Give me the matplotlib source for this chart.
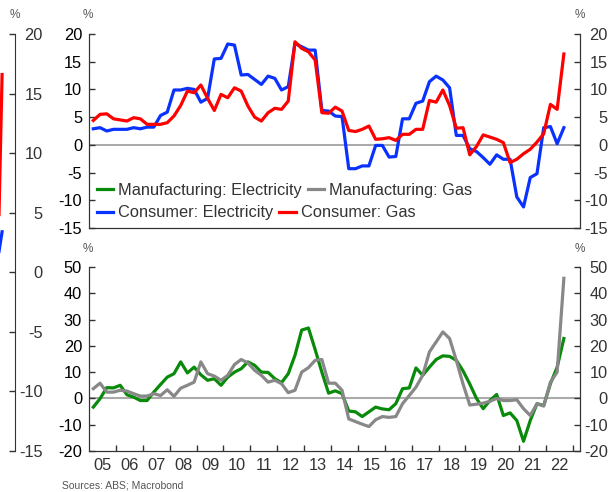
import matplotlib
matplotlib.use("Agg")
import matplotlib.pyplot as plt
import numpy as np
import pandas as pd

plt.rcParams['font.family'] = ['Liberation Sans', 'DejaVu Sans']
plt.rcParams['axes.unicode_minus'] = False  # 目盛りはハイフンのマイナス

# 四半期データ 2005Q1 - 2022Q3 (前年比 %)
quarters = pd.period_range("2005Q1", "2022Q3", freq="Q")

cons_elec = [2.9, 3.1, 2.5, 2.8, 2.8, 2.8, 3.1, 2.9, 3.2, 3.2,
             5.3, 5.9, 9.9, 9.9, 10.2, 10.0, 7.7, 8.4, 15.5, 15.6,
             18.2, 18.0, 12.6, 12.7, 11.8, 10.9, 12.4, 12.0, 9.9, 10.5,
             18.3, 17.7, 17.1, 17.1, 6.2, 6.1, 5.2, 5.1, -4.3, -4.3,
             -3.8, -3.8, -0.1, -0.1, -2.2, -2.1, 4.7, 4.7, 7.5, 7.9,
             11.4, 12.4, 11.7, 10.3, 1.7, 1.7, -0.7, -1.2, -2.3, -3.5,
             -1.8, -2.6, -2.6, -9.4, -11.2, -5.9, -5.2, 3.1, 3.3, 0.2,
             3.1]
cons_gas = [4.4, 5.5, 5.6, 4.7, 4.5, 4.3, 4.9, 4.7, 3.7, 3.7,
            3.7, 4.0, 5.2, 7.1, 9.7, 9.4, 10.8, 8.4, 6.2, 9.1,
            8.5, 10.3, 9.7, 7.0, 5.0, 4.3, 5.8, 6.6, 6.4, 7.9,
            18.6, 17.4, 16.8, 15.3, 5.8, 5.7, 6.8, 6.1, 2.6, 2.4,
            2.8, 3.4, 1.0, 1.1, 1.3, 0.8, 1.9, 1.9, 2.8, 2.8,
            8.0, 7.7, 9.9, 7.1, 3.0, 3.1, -1.8, -0.3, 1.8, 1.4,
            1.0, 0.4, -3.2, -2.6, -1.6, -0.8, 0.5, 2.0, 7.3, 6.4,
            16.4]
manu_elec = [-3.3, -0.1, 4.1, 4.0, 5.0, 1.4, 0.5, -0.8, -0.8, 2.4,
             5.3, 8.1, 9.4, 13.9, 9.7, 11.9, 9.0, 6.9, 7.5, 5.0,
             8.1, 10.0, 11.3, 13.9, 12.6, 10.0, 9.9, 7.5, 6.0, 9.4,
             16.4, 26.0, 26.8, 18.6, 10.0, 2.0, 2.9, 1.8, -4.8, -5.1,
             -6.9, -5.1, -3.3, -4.0, -4.3, -2.0, 3.7, 4.0, 11.6, 8.8,
             11.9, 14.8, 16.2, 16.0, 14.5, 10.5, 5.5, 0.0, -3.9, -0.8,
             1.5, -6.5, -5.5, -8.4, -16.3, -8.4, -2.0, -2.7, 5.6, 11.9,
             22.8]
manu_gas = [3.7, 5.8, 2.4, 2.4, 3.1, 2.8, 1.8, 0.9, 0.9, 1.8,
            1.1, 3.3, 0.8, 3.9, 5.0, 6.2, 13.9, 9.4, 8.5, 6.9,
            8.8, 12.9, 14.8, 13.5, 10.7, 8.8, 6.2, 6.9, 5.6, 2.2,
            3.1, 10.0, 11.7, 14.5, 14.8, 5.8, 5.8, 3.1, -7.8, -8.8,
            -9.8, -10.7, -8.1, -6.9, -7.2, -6.9, -2.0, 1.1, 4.3, 8.8,
            17.7, 21.5, 25.3, 22.8, 14.5, 5.5, -2.5, -2.2, -1.8, -1.1,
            0.0, -0.8, -0.8, -0.5, -3.9, -6.5, -2.0, -2.9, 6.2, 10.0,
            45.7]

# 左端に見切れている隣のチャート(最後の2点だけ見える)
prev_quarters = pd.period_range("2022Q2", "2022Q3", freq="Q")
prev_red = [-9.0, 16.6]
prev_blue = [-0.2, 3.4]

top_ticks = [20, 15, 10, 5, 0, -5, -10, -15]
bottom_ticks = [50, 40, 30, 20, 10, 0, -10, -20]
year_labels = ["05", "06", "07", "08", "09", "10", "11", "12", "13",
               "14", "15", "16", "17", "18", "19", "20", "21", "22"]

C_GREEN = "#0a8a0a"
C_GRAY = "#888888"
C_BLUE = "#0a32ff"
C_RED = "#ff0000"
FS = 11.8
LW = 2.3

W, H = 614, 492


def box(x0, y0, x1, y1):
    # ピクセル -> figure座標
    return [x0 / W, 1 - y1 / H, (x1 - x0) / W, (y1 - y0) / H]


def qx(q):
    return q.year + (q.quarter - 1) / 4 + 0.16


x = qx(quarters)
x_prev = qx(prev_quarters)
xlim = (2005.0, 2023.26)

fig = plt.figure(figsize=(W / 100, H / 100), dpi=100)


def style_y(ax, ticks, ylim):
    ax.set_ylim(ylim)
    ax.set_yticks(ticks)
    ax.tick_params(axis="y", direction="in", length=4, width=1, colors="#333333",
                   labelsize=FS, labelcolor="black", pad=5)
    axr = ax.twinx()
    axr.set_ylim(ylim)
    axr.set_yticks(ticks)
    axr.tick_params(axis="y", direction="in", length=4, width=1, colors="#333333",
                    labelsize=FS, labelcolor="#333333", pad=20)
    for lab in axr.get_yticklabels():
        lab.set_horizontalalignment("right")
    for a in (ax, axr):
        a.spines["top"].set_visible(False)
        for s in ("left", "right", "bottom"):
            a.spines[s].set_color("#333333")
    return axr


# 上段: 消費者物価
ax1 = fig.add_axes(box(89, 34, 580, 228))
ax1.axhline(0, color="#999999", lw=1.2, zorder=1)
l_ce, = ax1.plot(x, cons_elec, color=C_BLUE, lw=LW, label="Consumer: Electricity")
l_cg, = ax1.plot(x, cons_gas, color=C_RED, lw=LW, label="Consumer: Gas")
ax1.set_xlim(xlim)
ax1.set_xticks([])
style_y(ax1, top_ticks, (-15, 20))

# 下段: 生産者物価
ax2 = fig.add_axes(box(89, 267, 580, 451))
ax2.axhline(0, color="#aaaaaa", lw=1.5, zorder=1)
l_me, = ax2.plot(x, manu_elec, color=C_GREEN, lw=LW, label="Manufacturing: Electricity")
l_mg, = ax2.plot(x, manu_gas, color=C_GRAY, lw=LW, label="Manufacturing: Gas")
ax2.set_xlim(xlim)
ax2.set_xticks(np.arange(2006, 2024))
ax2.set_xticklabels([])
ax2.set_xticks(np.arange(2005, 2005 + len(year_labels)) + 0.5, minor=True)
ax2.set_xticklabels(year_labels, minor=True)
ax2.tick_params(axis="x", which="major", direction="in", length=4, width=1, colors="#333333")
ax2.tick_params(axis="x", which="minor", length=0, labelsize=FS, labelcolor="#333333", pad=5)
style_y(ax2, bottom_ticks, (-20, 50))

# 凡例 (行ごとに別の凡例)
leg_kw = dict(ncol=2, frameon=False, fontsize=FS, labelcolor="#333333",
              handlelength=1.0, handletextpad=0.3, columnspacing=0.35,
              borderpad=0, borderaxespad=0, loc="center left",
              bbox_transform=fig.transFigure)
leg1 = ax1.legend(handles=[l_me, l_mg], bbox_to_anchor=(97 / W, 1 - 190.5 / H), **leg_kw)
ax1.add_artist(leg1)
ax1.legend(handles=[l_ce, l_cg], bbox_to_anchor=(97 / W, 1 - 213 / H), **leg_kw)

# 左端の見切れたチャート
ax0 = fig.add_axes(box(15 - 200, 34, 15, 451))
ax0.plot(x_prev, prev_red, color=C_RED, lw=LW)
ax0.plot(x_prev, prev_blue, color=C_BLUE, lw=LW)
ax0.set_xlim(2023.14 - 200 / 26.9, 2023.14)
ax0.set_ylim(-15, 20)
ax0.set_xticks([])
ax0.yaxis.tick_right()
ax0.set_yticks(top_ticks)
ax0.tick_params(axis="y", direction="in", length=4, width=1, colors="#333333",
                labelsize=FS, labelcolor="#333333", pad=20)
for lab in ax0.get_yticklabels():
    lab.set_horizontalalignment("right")
for s in ("left", "top", "bottom"):
    ax0.spines[s].set_visible(False)
ax0.spines["right"].set_color("#333333")

# % 表示
for px, py in [(15, 15), (88, 15), (580, 15), (88, 249), (580, 249)]:
    fig.text(px / W, 1 - py / H, "%", fontsize=8.5, color="#555555",
             ha="center", va="center")

fig.text(62 / W, 1 - 481 / H, "Sources: ABS; Macrobond", fontsize=7.5,
         color="#555555", va="top")

fig.savefig("out.png", dpi=100)
